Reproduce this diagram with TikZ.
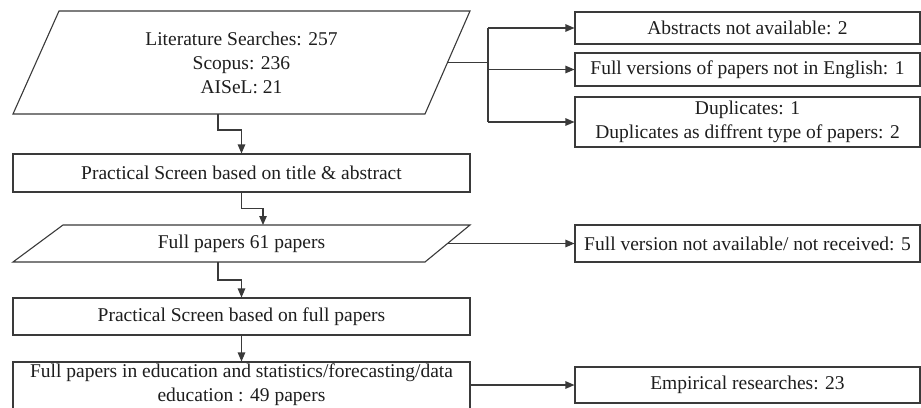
\documentclass[tikz,border=0pt]{standalone}
\usepackage{fontspec}
\setmainfont{Liberation Serif}
\usetikzlibrary{arrows.meta}
\definecolor{linec}{HTML}{3A3A3A}
\definecolor{txtc}{HTML}{1E1E1E}
\begin{document}
\begin{tikzpicture}[x=1pt,y=-1pt,
  every node/.style={font=\fontsize{19.5}{24}\selectfont, text=txtc, align=center, inner sep=0pt},
  box/.style={draw=linec, line width=1.1pt, minimum width=#1},
  box/.default=457,
  sidebox/.style={draw=linec, line width=1.1pt, minimum width=345},
  conn/.style={draw=linec, line width=1.1pt},
  arr/.style={conn, -{Triangle[length=9pt,width=7.5pt]}}]
\useasboundingbox (0,0) rectangle (921,407);
\fill[white] (0,0) rectangle (921,407);
\clip (0,0) rectangle (921,407);

% parallelogram 1
\draw[conn] (59,11) -- (470,11) -- (425,114) -- (13,114) -- cycle;
\node (lit) at (241.5,62.5) {Literature Searches: 257\\Scopus: 236\\AISeL: 21};
\coordinate (litE) at (447.5,62.5);
\coordinate (litS) at (218,114);

% main column
\node[box, minimum height=38] (scr1) at (241.5,173) {Practical Screen based on title \& abstract};

\draw[conn] (63,225) -- (470,225) -- (425,262) -- (13,262) -- cycle;
\node (full) at (241.5,243.5) {Full papers 61 papers};
\coordinate (fullN) at (263,225);
\coordinate (fullE) at (447.5,243.5);
\coordinate (fullS) at (218,262);

\node[box, minimum height=37] (scr2) at (241.5,316.5) {Practical Screen based on full papers};
\node[box, minimum height=52] (edu) at (241.5,388) {};
\node (edutext) at (241.5,385) {Full papers in education and statistics/forecasting/data\\education : 49 papers};

% side boxes
\node[sidebox, minimum height=32] (abs) at (747.5,28) {Abstracts not available: 2};
\node[sidebox, minimum height=33] (eng) at (747.5,69.5) {Full versions of papers not in English: 1};
\node[sidebox, minimum height=50] (dup) at (747.5,122) {Duplicates: 1\\Duplicates as diffrent type of papers: 2};
\node[sidebox, minimum height=37] (nav) at (747.5,243.5) {Full version not available/ not received: 5};
\node[sidebox, minimum height=36] (emp) at (747.5,385) {Empirical researches: 23};

% branch
\coordinate (br) at (488,62.5);
\coordinate (brT) at (488,28);
\coordinate (brM) at (488,69.5);
\coordinate (brB) at (488,122);
\draw[conn] (litE) -- (br);
\draw[conn] (brT) -- (brB);
\draw[arr] (brT) -- (abs.west);
\draw[arr] (brM) -- (eng.west);
\draw[arr] (brB) -- (dup.west);

% main flow
\draw[arr] (litS) -- ++(0,16) -| (scr1.north);
\draw[arr] (scr1.south) -- ++(0,16) -| (fullN);
\draw[arr] (fullS) -- ++(0,18) -| (scr2.north);
\draw[arr] (scr2.south) -- (edu.north);
\draw[arr] (fullE) -- (nav.west);
\draw[arr] (edu.east |- emp.west) -- (emp.west);
\end{tikzpicture}
\end{document}
